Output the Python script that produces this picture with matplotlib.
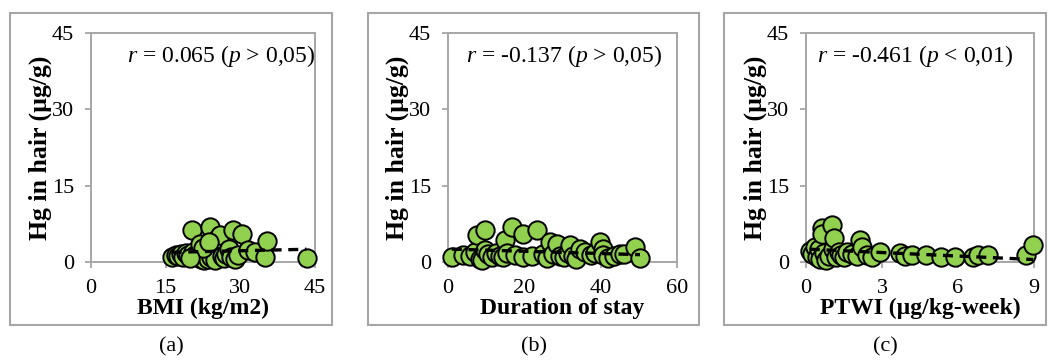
import numpy as np
import matplotlib
matplotlib.use("Agg")
import matplotlib.pyplot as plt
from matplotlib.patches import Rectangle

plt.rcParams['font.family'] = ['Liberation Serif', 'DejaVu Serif']
plt.rcParams['mathtext.fontset'] = 'custom'
plt.rcParams['mathtext.rm'] = 'Liberation Serif'
plt.rcParams['mathtext.it'] = 'Liberation Serif:italic'

# (a) BMI vs Hg
bmi = [16.2, 17.0, 17.5, 18.0, 18.5, 19.0, 19.5, 20.2, 20.5, 20.9, 21.3, 21.8, 22.0, 22.4,
       22.8, 23.0, 23.5, 24.0, 24.2, 24.6, 25.0, 25.4, 25.9, 26.3, 26.8, 27.2, 27.7, 28.2,
       28.6, 29.0, 29.5, 30.3, 31.6, 33.0, 34.9, 35.3, 43.3, 22.5, 23.8, 19.8]
hg_a = [1.0, 1.4, 1.2, 1.6, 1.0, 1.8, 1.3, 6.3, 2.0, 1.4, 1.2, 3.5, 0.5, 1.5,
        0.3, 2.2, 0.6, 6.9, 1.0, 3.0, 0.4, 4.5, 5.3, 1.2, 0.8, 1.5, 2.6, 1.0,
        6.3, 0.5, 1.3, 5.6, 2.4, 2.0, 1.0, 4.2, 0.7, 2.8, 4.0, 0.8]

# (b) duration of stay vs Hg
dur = [1.0, 4.0, 5.8, 7.0, 7.5, 8.5, 9.0, 9.7, 9.7, 10.5, 11.5, 12.5, 13.5, 14.5, 14.9,
       15.5, 16.7, 17.5, 19.7, 19.7, 22.0, 23.2, 25.0, 26.0, 26.7, 27.5, 28.5, 29.3, 30.5,
       31.5, 32.0, 32.8, 33.5, 34.5, 36.0, 37.5, 38.5, 39.8, 40.5, 40.7, 42.0, 43.5, 45.1,
       46.0, 49.0, 50.3]
hg_b = [1.0, 1.3, 1.2, 2.0, 5.3, 0.6, 0.3, 6.3, 2.4, 1.5, 1.0, 1.7, 1.2, 1.0, 4.3,
        1.8, 6.9, 1.4, 5.6, 1.0, 1.2, 6.3, 1.5, 0.8, 4.0, 1.6, 3.5, 1.2, 1.0,
        1.8, 3.3, 1.1, 0.6, 2.5, 2.0, 1.4, 1.8, 4.0, 2.6, 1.4, 0.8, 1.2, 1.6,
        1.5, 3.0, 0.7]

# (c) PTWI vs Hg
ptwi = [0.15, 0.25, 0.35, 0.45, 0.5, 0.55, 0.62, 0.62, 0.7, 0.8, 0.9, 1.01, 1.05, 1.1,
        1.2, 1.3, 1.4, 1.5, 1.6, 1.8, 2.0, 2.13, 2.2, 2.4, 2.6, 2.92, 3.7, 3.9, 4.2,
        4.75, 5.34, 5.88, 6.6, 6.8, 7.2, 8.7, 8.97]
hg_c = [2.2, 1.5, 3.0, 1.0, 2.5, 0.6, 6.6, 5.6, 1.8, 0.4, 1.2, 7.3, 2.6, 4.8,
        1.0, 1.9, 1.4, 1.0, 2.0, 1.5, 1.2, 4.3, 3.0, 1.4, 1.0, 2.0, 1.7, 1.2, 1.4,
        1.4, 1.0, 0.9, 1.0, 1.4, 1.4, 1.4, 3.3]

# linear trend lines: (slope, intercept)
trend_a = (0.022, 1.55)
trend_b = (-0.022, 2.55)
trend_c = (-0.23, 2.55)

xlabels = ['BMI (kg/m2)', 'Duration of stay', 'PTWI (µg/kg-week)']
xlims = [(0, 45), (0, 60), (0, 9)]
xticks = [[0, 15, 30, 45], [0, 20, 40, 60], [0, 3, 6, 9]]
yticks = [0, 15, 30, 45]
notes = [r'$r$ = 0.065 ($p$ > 0,05)', r'$r$ = -0.137 ($p$ > 0,05)', r'$r$ = -0.461 ($p$ < 0,01)']
panel_names = ['(a)', '(b)', '(c)']

W, H = 1048, 360
fig = plt.figure(figsize=(W / 100, H / 100), dpi=100)

axes_px = [(91, 315), (448, 677), (806, 1034)]   # left/right of plot areas
frames_px = [(10, 332), (368, 699), (724, 1046)]  # outer gray boxes
note_right = [1.0, 0.935, 0.91]                   # right end of r-annotation (axes frac)
top_px, bot_px = 33, 262
grey = '#A6A6A6'

data = [(bmi, hg_a, trend_a), (dur, hg_b, trend_b), (ptwi, hg_c, trend_c)]

for i, (xs, ys, tr) in enumerate(data):
    l, r = axes_px[i]
    ax = fig.add_axes([l / W, (H - bot_px) / H, (r - l) / W, (bot_px - top_px) / H])
    ax.scatter(xs, ys, s=175, c='#92D050', edgecolors='black', linewidths=1.4, zorder=3,
               clip_on=False)
    xx = np.array([min(xs), max(xs)])
    ax.plot(xx, tr[0] * xx + tr[1], color='black', lw=2.4, ls=(0, (3, 2)), zorder=4)

    ax.set_xlim(*xlims[i])
    ax.set_ylim(0, 45)
    ax.set_xticks(xticks[i])
    ax.set_yticks(yticks)
    ax.tick_params(labelsize=16, color=grey, length=4, width=1.3)
    ax.tick_params(axis='x', pad=8)
    ax.tick_params(axis='y', pad=8)
    for sp in ax.spines.values():
        sp.set_color(grey)
        sp.set_linewidth(1.4)
    ax.set_xlabel(xlabels[i], fontsize=17, fontweight='bold', labelpad=0)
    ax.set_ylabel('Hg in hair (µg/g)', fontsize=18.5, fontweight='bold', labelpad=0)
    ax.text(note_right[i], 0.9, notes[i], transform=ax.transAxes, ha='right', va='center',
            fontsize=17)

    fl, fr = frames_px[i]
    fig.add_artist(Rectangle((fl / W, (H - 325) / H), (fr - fl) / W, (325 - 13) / H,
                             transform=fig.transFigure, fill=False, edgecolor=grey, lw=1.5))
    fig.text((fl + fr) / 2 / W, (H - 347) / H, panel_names[i], ha='center', va='center',
             fontsize=16)

fig.savefig('out.png', dpi=100)
